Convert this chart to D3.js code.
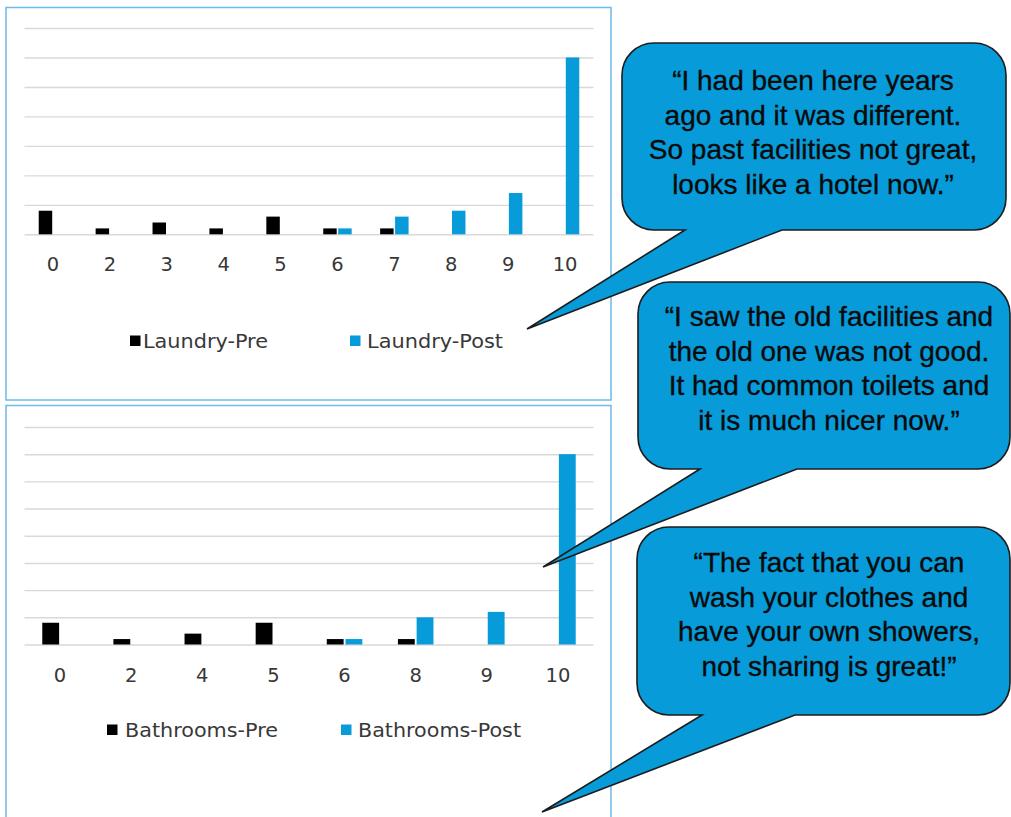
<!DOCTYPE html>
<html>
<head>
<meta charset="utf-8">
<script src="https://cdn.jsdelivr.net/npm/d3@7"></script>
<style>
  html, body { margin: 0; padding: 0; background: #ffffff; }
  svg { display: block; }
</style>
</head>
<body>
<svg id="chart" width="1011" height="817"></svg>
<script>
// Satisfaction scores (0-10) before and after the refurbishment, counts of respondents
const laundryScores = ["0", "2", "3", "4", "5", "6", "7", "8", "9", "10"];
const laundryPre    = [4, 1, 2, 1, 3, 1, 1, 0, 0, 0];
const laundryPost   = [0, 0, 0, 0, 0, 1, 3, 4, 7, 30];

const bathroomScores = ["0", "2", "4", "5", "6", "8", "9", "10"];
const bathroomPre    = [4, 1, 2, 4, 1, 1, 0, 0];
const bathroomPost   = [0, 0, 0, 0, 1, 5, 6, 35];

const laundrySeries  = ["Laundry-Pre", "Laundry-Post"];
const bathroomSeries = ["Bathrooms-Pre", "Bathrooms-Post"];

const quotes = [
  ["\u201CI had been here years", "ago and it was different.", "So past facilities not great,", "looks like a hotel now.\u201D"],
  ["\u201CI saw the old facilities and", "the old one was not good.", "It had common toilets and", "it is much nicer now.\u201D"],
  ["\u201CThe fact that you can", "wash your clothes and", "have your own showers,", "not sharing is great!\u201D"]
];

const PRE = "#000000";
const POST = "#079bd9";
const GRID = "#d9d9d9";
const LABEL = "#383838";
const FRAME = "#6cbbea";

const svg = d3.select("#chart");

// Panel frames
svg.append("rect").attr("x", 6).attr("y", 7.5).attr("width", 605).attr("height", 392.5)
  .attr("fill", "none").attr("stroke", FRAME).attr("stroke-width", 1.5);
svg.append("rect").attr("x", 6).attr("y", 405.5).attr("width", 605).attr("height", 430)
  .attr("fill", "none").attr("stroke", FRAME).attr("stroke-width", 1.5);

function drawPanel(cfg) {
  const g = svg.append("g");
  const x0 = d3.scaleBand().domain(cfg.scores).range([24.5, 593.5])
    .paddingInner(0.5).paddingOuter(0.25);
  const x1 = d3.scaleBand().domain(["pre", "post"]).range([0, x0.bandwidth()]).paddingInner(0.1);
  const y = d3.scaleLinear().domain([0, cfg.max]).range([cfg.base, cfg.top]);

  // horizontal gridlines
  const grid = g.append("g").attr("transform", "translate(24.5,0)")
    .call(d3.axisLeft(y).ticks(cfg.max / 5).tickSize(-569).tickFormat(""));
  grid.select(".domain").remove();
  grid.selectAll(".tick line").attr("stroke", GRID).attr("stroke-width", 1.4);

  // bars
  const rows = cfg.scores.map((s, i) => ({ s, pre: cfg.pre[i], post: cfg.post[i] }));
  const groups = g.selectAll(".grp").data(rows).join("g")
    .attr("transform", d => `translate(${x0(d.s)},0)`);
  groups.selectAll("rect")
    .data(d => [{ k: "pre", v: d.pre }, { k: "post", v: d.post }].filter(e => e.v > 0))
    .join("rect")
    .attr("x", e => x1(e.k))
    .attr("width", x1.bandwidth())
    .attr("y", e => y(e.v))
    .attr("height", e => y(0) - y(e.v))
    .attr("fill", e => e.k === "pre" ? PRE : POST);

  // category labels
  const ax = g.append("g").attr("transform", `translate(0,${cfg.base})`)
    .call(d3.axisBottom(x0).tickSize(0));
  ax.select(".domain").remove();
  ax.selectAll("text").attr("dy", null).attr("y", 37)
    .attr("fill", LABEL).style("font-family", "DejaVu Sans, sans-serif").style("font-size", "19.5px");

  // legend
  const lg = g.append("g");
  cfg.legend.forEach((item, i) => {
    lg.append("rect").attr("x", item.sx).attr("y", cfg.legendY - 5.5).attr("width", 10.5).attr("height", 10.5)
      .attr("fill", i === 0 ? PRE : POST);
    lg.append("text").attr("x", item.tx).attr("y", cfg.legendY + 7)
      .attr("textLength", item.w).attr("lengthAdjust", "spacingAndGlyphs")
      .attr("fill", LABEL).style("font-family", "DejaVu Sans, sans-serif").style("font-size", "19.5px")
      .text(cfg.series[i]);
  });
}

drawPanel({
  scores: laundryScores, pre: laundryPre, post: laundryPost, series: laundrySeries,
  max: 35, base: 234.3, top: 28, legendY: 341,
  legend: [{ sx: 130, tx: 143, w: 125 }, { sx: 350, tx: 367, w: 136 }]
});
drawPanel({
  scores: bathroomScores, pre: bathroomPre, post: bathroomPost, series: bathroomSeries,
  max: 40, base: 644.5, top: 427, legendY: 730,
  legend: [{ sx: 107, tx: 125, w: 153 }, { sx: 341, tx: 358, w: 163 }]
});

// Speech bubbles with pointed tails
function bubblePath(b) {
  const r = b.r;
  return `M${b.x0 + r},${b.y0} H${b.x1 - r} A${r},${r} 0 0 1 ${b.x1},${b.y0 + r}` +
    ` V${b.y1 - r} A${r},${r} 0 0 1 ${b.x1 - r},${b.y1}` +
    ` H${b.baseR} L${b.tipX},${b.tipY} L${b.baseL},${b.y1}` +
    ` H${b.x0 + r} A${r},${r} 0 0 1 ${b.x0},${b.y1 - r}` +
    ` V${b.y0 + r} A${r},${r} 0 0 1 ${b.x0 + r},${b.y0} Z`;
}

const bubbles = [
  { x0: 622, y0: 43, x1: 1006, y1: 230, r: 32, baseL: 685, baseR: 782, tipX: 527, tipY: 329, tx: 813, ty: 90 },
  { x0: 638, y0: 282, x1: 1010, y1: 469, r: 32, baseL: 700, baseR: 797, tipX: 543, tipY: 567, tx: 829, ty: 326 },
  { x0: 637, y0: 527, x1: 1010, y1: 715, r: 32, baseL: 702, baseR: 795, tipX: 542, tipY: 812, tx: 829, ty: 572 }
];

bubbles.forEach((b, i) => {
  const g = svg.append("g");
  g.append("path").attr("d", bubblePath(b))
    .attr("fill", POST).attr("stroke", "#1c1c1c").attr("stroke-width", 1.6).attr("stroke-linejoin", "miter");
  g.selectAll("text").data(quotes[i]).join("text")
    .attr("x", b.tx).attr("y", (d, j) => b.ty + j * 34.6)
    .attr("text-anchor", "middle").attr("fill", "#0a0a0a")
    .attr("stroke", "#0a0a0a").attr("stroke-width", 0.35)
    .style("font-family", "Liberation Sans, Arial, sans-serif").style("font-size", "28px")
    .text(d => d);
});
</script>
</body>
</html>
